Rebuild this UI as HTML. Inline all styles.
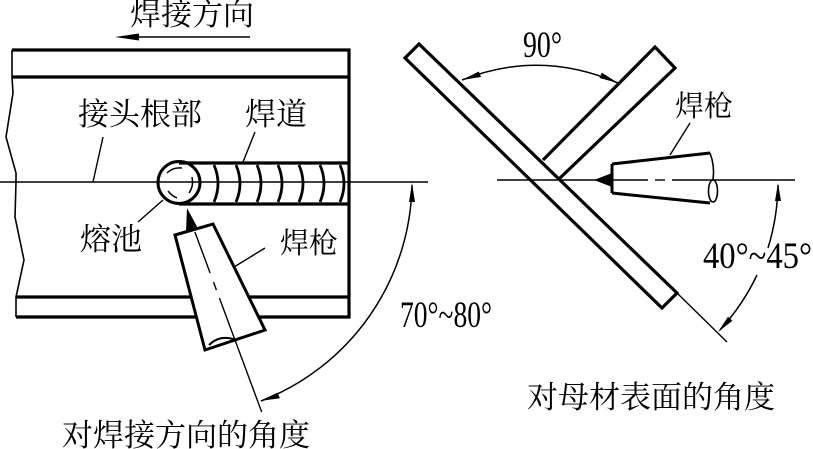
<!DOCTYPE html>
<html>
<head>
<meta charset="utf-8">
<style>
html,body{margin:0;padding:0;background:#fff;}
svg{display:block;}
.cj{font-family:"Liberation Serif","Noto Serif CJK SC","Noto Sans CJK SC",serif;font-size:31px;fill:#000;}
.nm{font-family:"Liberation Serif",serif;font-size:37px;fill:#000;}
</style>
</head>
<body>
<svg width="813" height="449" viewBox="0 0 813 449" xmlns="http://www.w3.org/2000/svg">
<rect width="813" height="449" fill="#fff"/>

<!-- ===== LEFT FIGURE ===== -->
<text class="cj" x="130" y="25">焊接方向</text>
<line x1="135" y1="37" x2="250" y2="37" stroke="#000" stroke-width="1.6"/>
<polygon points="115,37 139,33.5 139,40.5" fill="#000"/>

<g stroke="#000" stroke-width="3.2" fill="none">
  <path d="M12,50 H349 V317 H16"/>
  <path d="M12,77 H349"/>
  <path d="M16,297 H349"/>
</g>
<path d="M12,50 L12,77 L13,93 L6,137 L16,173 L16,182 L15,217 L24,260 L16,297 L16,317" stroke="#000" stroke-width="1.6" fill="none"/>

<line x1="0" y1="182" x2="428" y2="182" stroke="#000" stroke-width="1.4"/>

<g stroke="#000" stroke-width="3.2" fill="none">
  <path d="M179,163 H349"/>
  <path d="M179,204 H349"/>
</g>
<g stroke="#000" stroke-width="2.8" fill="none">
  <path d="M214,165 Q222,183.5 214,202"/>
  <path d="M236,165 Q244,183.5 236,202"/>
  <path d="M257,165 Q265,183.5 257,202"/>
  <path d="M278,165 Q286,183.5 278,202"/>
  <path d="M299,165 Q307,183.5 299,202"/>
  <path d="M320,165 Q328,183.5 320,202"/>
  <path d="M340,165 Q348,183.5 340,202"/>
</g>
<circle cx="179" cy="182.5" r="21" fill="none" stroke="#000" stroke-width="3"/>
<g stroke="#000" stroke-width="1.5" fill="none">
  <path d="M167,173 Q173,167 182,168"/>
  <path d="M192,177 Q194,186 189,193"/>
  <path d="M168,191 Q172,196 177,198"/>
</g>

<text class="cj" x="78" y="125">接头根部</text>
<text class="cj" x="245" y="125">焊道</text>
<text class="cj" x="80" y="250">熔池</text>
<text class="cj" x="280" y="253" style="font-size:29px">焊枪</text>
<g stroke="#000" stroke-width="1.4">
  <line x1="103" y1="137" x2="93" y2="182"/>
  <line x1="255" y1="132" x2="243" y2="162"/>
  <line x1="138" y1="222" x2="163" y2="200"/>
  <line x1="265" y1="248" x2="234" y2="267"/>
</g>

<polygon points="175,235 213,224 265,330 205,350" fill="#fff" stroke="#000" stroke-width="3" stroke-linejoin="miter"/>
<path d="M209,345 Q220,334 236,340" fill="none" stroke="#000" stroke-width="2"/>
<polygon points="187,208 198,228.5 186,232" fill="#000"/>
<g stroke="#000" stroke-width="1.4">
  <line x1="194.9" y1="232" x2="210.1" y2="273"/>
  <line x1="213.5" y1="282" x2="216.4" y2="290"/>
  <line x1="219.4" y1="298" x2="261.7" y2="412"/>
</g>

<path d="M412,185 A236,236 0 0 1 261,401" fill="none" stroke="#000" stroke-width="1.5"/>
<polygon points="412,183 415,202 409,202" fill="#000"/>
<polygon points="260,401 279.8,398.2 277.6,392.6" fill="#000"/>
<text class="nm" x="400" y="327" textLength="92" lengthAdjust="spacingAndGlyphs">70°~80°</text>

<text class="cj" x="62" y="446">对焊接方向的角度</text>

<!-- ===== RIGHT FIGURE ===== -->
<g stroke="#000" stroke-width="1.4">
  <line x1="497" y1="180" x2="648" y2="180"/>
  <line x1="655" y1="180" x2="665" y2="180"/>
  <line x1="672" y1="180" x2="795" y2="180"/>
</g>

<polygon points="419,44 677,293 662,308 405,58" fill="none" stroke="#000" stroke-width="3.2" stroke-linejoin="miter"/>
<path d="M543,160 L655,47 L675,68 L560,178" fill="none" stroke="#000" stroke-width="3.2" stroke-linejoin="miter"/>

<line x1="677" y1="293" x2="727" y2="342" stroke="#000" stroke-width="1.4"/>

<path d="M462,80 Q540,49 618,83" fill="none" stroke="#000" stroke-width="1.5"/>
<polygon points="462,80 478.8,71.5 481,77" fill="#000"/>
<polygon points="618,83 599.5,78 601.8,72.6" fill="#000"/>
<text class="nm" x="523" y="57" textLength="39" lengthAdjust="spacingAndGlyphs">90°</text>

<g stroke="#000" stroke-width="3" fill="none">
  <path d="M612,164 L710,153"/>
  <path d="M612,193 L710,203"/>
  <path d="M612,164 V193"/>
</g>
<path d="M710,153 Q715,166 713,180" fill="none" stroke="#000" stroke-width="1.6"/>
<ellipse cx="713" cy="191" rx="4.5" ry="11" fill="none" stroke="#000" stroke-width="1.6"/>
<polygon points="594,180 612,173 612,187" fill="#000"/>
<text class="cj" x="675" y="116" style="font-size:29px">焊枪</text>
<line x1="690" y1="123" x2="670" y2="155" stroke="#000" stroke-width="1.4"/>

<path d="M778,185 A225,225 0 0 1 768,248" fill="none" stroke="#000" stroke-width="1.5"/>
<path d="M757,275 A225,225 0 0 1 720,330" fill="none" stroke="#000" stroke-width="1.5"/>
<polygon points="778,183 781,201 775,201" fill="#000"/>
<polygon points="718,332 732.4,320.8 728,316.8" fill="#000"/>
<text class="nm" x="703" y="268" textLength="109" lengthAdjust="spacingAndGlyphs">40°~45°</text>

<text class="cj" x="527" y="408">对母材表面的角度</text>
</svg>
</body>
</html>
